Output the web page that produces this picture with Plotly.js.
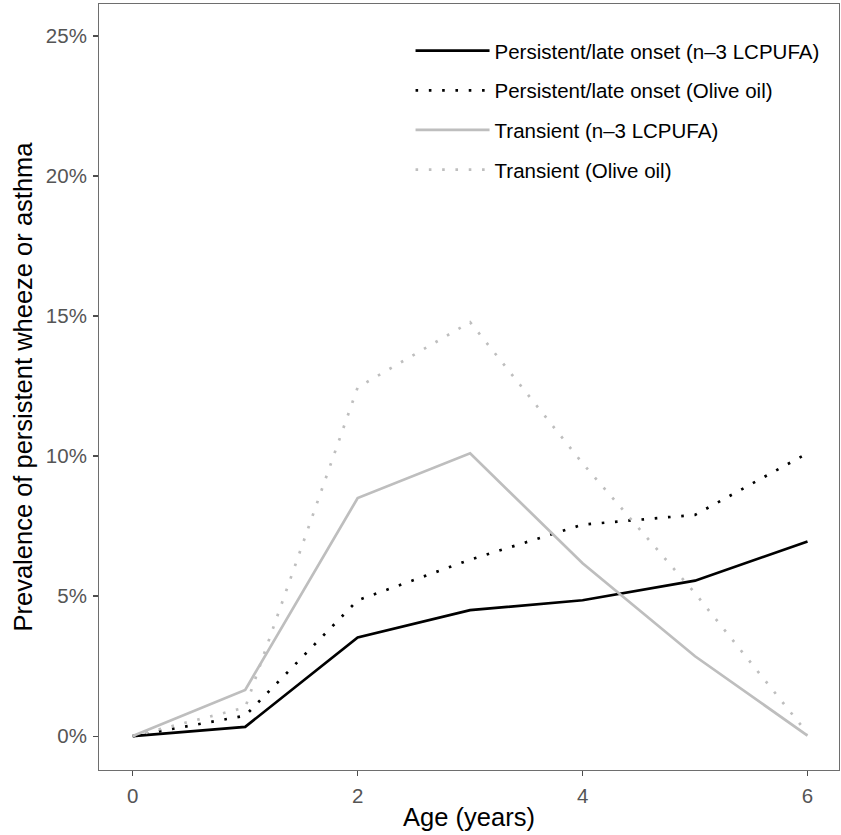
<!DOCTYPE html>
<html>
<head>
<meta charset="utf-8">
<script src="https://cdn.plot.ly/plotly-3.0.1.min.js"></script>
<style>html,body{margin:0;padding:0;background:#fff;}</style>
</head>
<body>
<div id="chart" style="width:841px;height:835px;"></div>
<script>
const ages = [0, 1, 2, 3, 4, 5, 6];
const persistentN3 = [0, 0.33, 3.52, 4.5, 4.85, 5.55, 6.95];
const persistentOlive = [0, 0.73, 4.85, 6.3, 7.55, 7.9, 10.1];
const transientN3 = [0, 1.65, 8.5, 10.1, 6.17, 2.85, 0.02];
const transientOlive = [0, 1.02, 12.45, 14.78, 9.74, 5.1, 0.1];
const seriesNames = [
  "Persistent/late onset (n\u20133 LCPUFA)",
  "Persistent/late onset (Olive oil)",
  "Transient (n\u20133 LCPUFA)",
  "Transient (Olive oil)"
];
const yTicks = [0, 5, 10, 15, 20, 25];
const xTicks = [0, 2, 4, 6];

const black = "#000000", grey = "#bebebe";
const dotted = "2.6px,10.7px";
const series = [
  {y: persistentN3, color: black, dash: "solid"},
  {y: persistentOlive, color: black, dash: dotted},
  {y: transientN3, color: grey, dash: "solid"},
  {y: transientOlive, color: grey, dash: dotted}
];
const traces = series.map((s, i) => ({
  x: ages, y: s.y, type: "scatter", mode: "lines",
  name: seriesNames[i], legendgroup: "g" + i,
  line: {color: s.color, width: 2.7, dash: s.dash},
  hoverinfo: "skip"
}));

const fam = "Liberation Sans, Arial, sans-serif";
const axisCommon = {
  showgrid: false, zeroline: false, showline: true, mirror: true,
  linecolor: "#6e6e6e", linewidth: 1,
  ticks: "outside", ticklen: 5, tickwidth: 1.2, tickcolor: "#4d4d4d",
  ticklabelstandoff: 2,
  tickfont: {family: fam, size: 20.5, color: "#555555"}
};

const layout = {
  width: 841, height: 835,
  margin: {l: 99, r: 2, t: 4, b: 65},
  paper_bgcolor: "#ffffff", plot_bgcolor: "#ffffff",
  showlegend: true,
  hovermode: false,
  xaxis: Object.assign({}, axisCommon, {
    range: [-0.3, 6.28], tickvals: xTicks, ticktext: xTicks.map(String),
    title: {text: "Age (years)", standoff: 2,
      font: {family: fam, size: 25.5, color: "#000"}}
  }),
  yaxis: Object.assign({}, axisCommon, {
    range: [-1.21, 26.14], tickvals: yTicks, ticktext: yTicks.map(v => v + "%"),
    title: {text: "Prevalence of persistent wheeze or asthma", standoff: 5,
      font: {family: fam, size: 25.5, color: "#000"}}
  }),
  legend: {
    x: 0.421, y: 0.965, xanchor: "left", yanchor: "top",
    bgcolor: "rgba(255,255,255,0)", borderwidth: 0,
    itemwidth: 74, tracegroupgap: 10,
    font: {family: fam, size: 20.5, color: "#000"}
  }
};

Plotly.newPlot("chart", traces, layout, {displayModeBar: false, staticPlot: true});
</script>
</body>
</html>
